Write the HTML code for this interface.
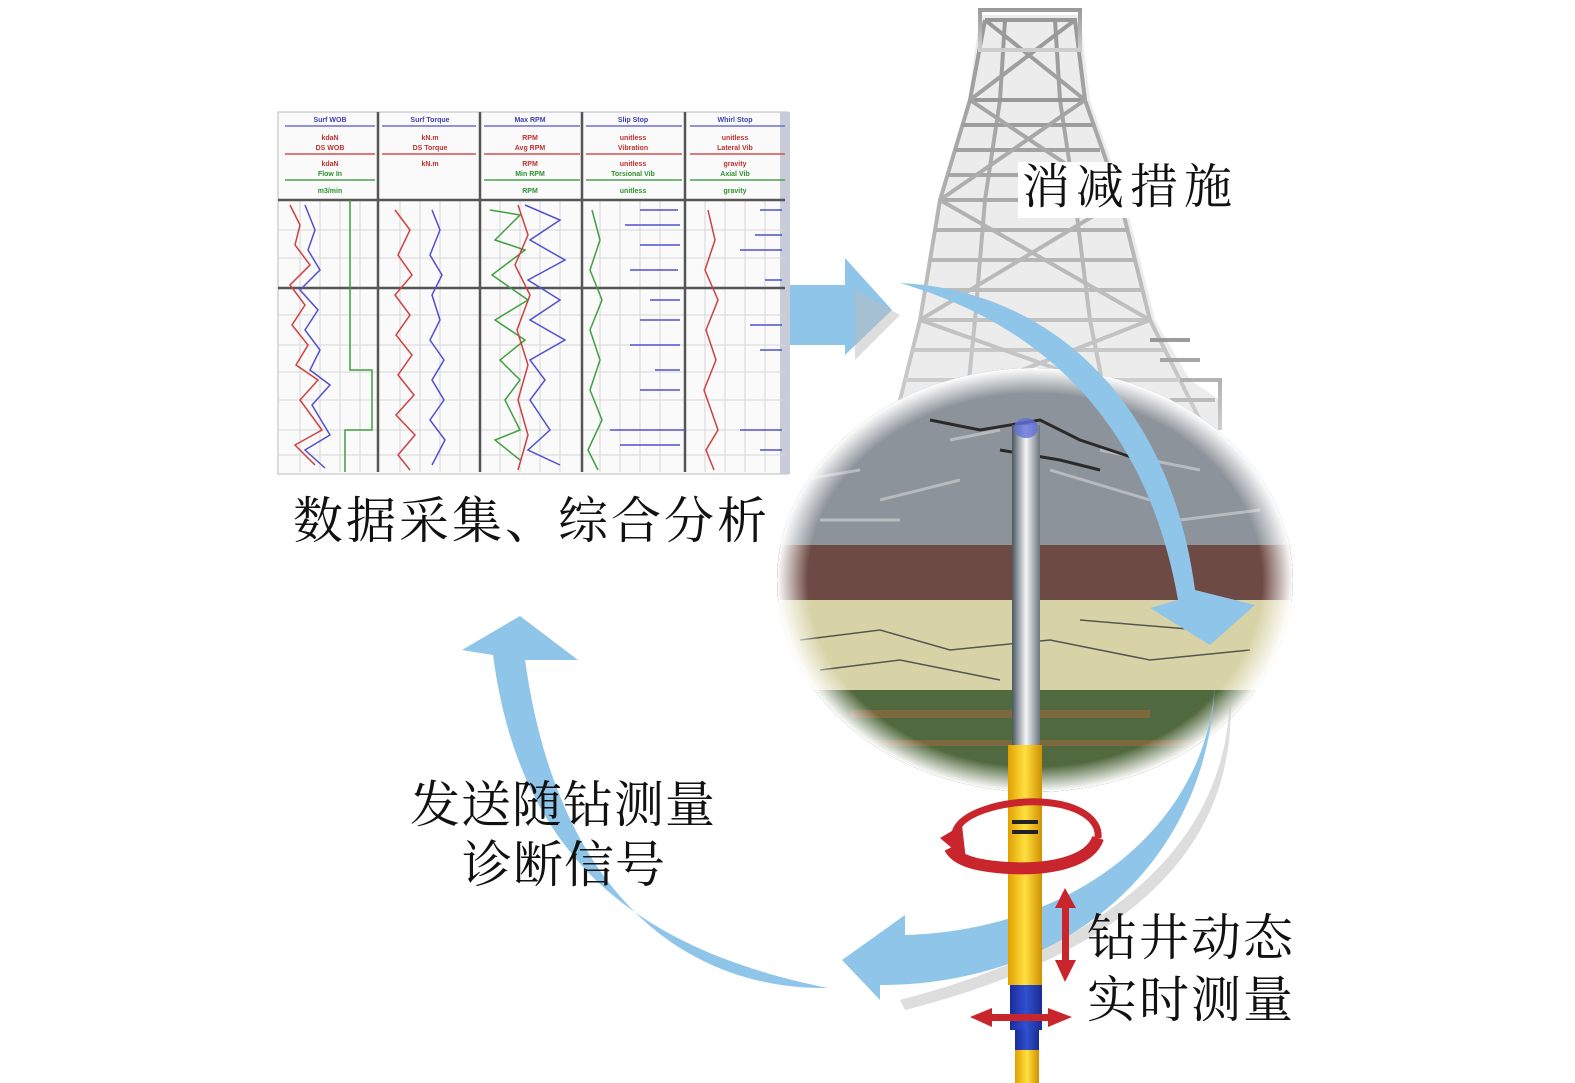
<!DOCTYPE html>
<html><head><meta charset="utf-8"><style>
body{margin:0;width:1575px;height:1083px;background:#fff;overflow:hidden;position:relative;font-family:"Liberation Serif","Noto Serif CJK SC",serif}
.t{position:absolute;color:#111;font-family:"Liberation Serif","Noto Serif CJK SC",serif;white-space:nowrap;line-height:1}
</style></head><body>
<svg width="1575" height="1083" style="position:absolute;left:0;top:0">
<defs>
<radialGradient id="fade" cx="50%" cy="50%" r="50%">
<stop offset="0.88" stop-color="#fff" stop-opacity="0"/><stop offset="1" stop-color="#fff" stop-opacity="1"/></radialGradient>
<clipPath id="ell"><ellipse cx="1035" cy="580" rx="258" ry="212"/></clipPath>
<linearGradient id="pipe" x1="0" x2="1"><stop offset="0" stop-color="#4a5560"/><stop offset="0.5" stop-color="#f4f6f8"/><stop offset="1" stop-color="#6a747e"/></linearGradient>
<linearGradient id="yel" x1="0" x2="1"><stop offset="0" stop-color="#e0a000"/><stop offset="0.5" stop-color="#ffe040"/><stop offset="1" stop-color="#d09000"/></linearGradient>
<linearGradient id="blu" x1="0" x2="1"><stop offset="0" stop-color="#1a2c9a"/><stop offset="0.5" stop-color="#3050d0"/><stop offset="1" stop-color="#1a2c90"/></linearGradient>
<linearGradient id="der" x1="0" y1="0" x2="0" y2="1"><stop offset="0" stop-color="#8a8a8a"/><stop offset="1" stop-color="#c8c8c8"/></linearGradient>
</defs>
<!-- derrick -->
<path d="M980 15 L1080 15 L1090 100 L1125 200 L1155 320 L1190 380 L1220 400 L1220 430 L890 430 L920 320 L940 200 L968 100 Z" fill="#d4d4d4" opacity="0.45"/>
<g stroke="url(#der)" stroke-width="4" fill="none" opacity="0.85">
<path d="M985 20 L1075 20 L1085 100 L1120 200 L1150 320 L1200 420 M985 20 L970 100 L940 200 L920 320 L895 420"/>
<path d="M1005 20 L1000 100 L985 200 L975 320 L965 420 M1055 20 L1060 100 L1075 200 L1090 320 L1110 420"/>
<path d="M970 100 L1085 100 M962 125 L1092 125 M955 150 L1100 150 M948 175 L1110 175 M940 200 L1120 200 M935 230 L1128 230 M930 260 L1135 260 M925 290 L1142 290 M920 320 L1150 320 M912 350 L1165 350 M905 380 L1180 380"/>
<path d="M985 20 L1085 100 M1075 20 L970 100 M970 100 L1120 200 M1085 100 L940 200 M940 200 L1150 320 M1120 200 L920 320 M920 320 L1200 420 M1150 320 L895 420"/>
<rect x="980" y="10" width="100" height="40"/>
<path d="M1180 380 L1220 380 L1220 430 M1150 340 L1190 340 M1160 360 L1200 360 M1170 400 L1215 400"/>
</g>
<rect x="1018" y="162" width="212" height="56" fill="#fff"/>
<!-- earth ellipse -->
<g clip-path="url(#ell)">
<rect x="770" y="360" width="540" height="190" fill="#8d939a"/>
<g stroke="#c9ccd0" stroke-width="3" opacity="0.7"><path d="M800 480 L860 470 M880 500 L960 480 M1050 470 L1150 500 M1100 450 L1200 470 M820 520 L900 520 M1180 520 L1260 510 M950 440 L1000 430"/></g>
<g stroke="#2a2a2a" stroke-width="3" fill="none"><path d="M930 420 L980 430 L1040 420 L1080 440 L1140 460 M1000 450 L1060 460 L1100 470"/></g>
<rect x="770" y="545" width="540" height="57" fill="#6e4a44"/>
<rect x="770" y="600" width="540" height="95" fill="#d8d3a6"/>
<g stroke="#555" stroke-width="1.5" fill="none"><path d="M800 640 L880 630 L950 650 L1050 640 L1150 660 L1250 650 M820 670 L900 660 L1000 680 M1080 620 L1200 630"/></g>
<rect x="770" y="690" width="540" height="110" fill="#51693e"/>
<g fill="#9a6a40" opacity="0.6"><rect x="850" y="710" width="300" height="8"/><rect x="820" y="740" width="400" height="6"/></g>
<ellipse cx="1035" cy="580" rx="258" ry="212" fill="url(#fade)"/>
</g>
<!-- arrows -->
<g fill="#8ec5e8">
<path d="M790 285 L845 285 L845 258 L892 310 L845 355 L845 345 L790 345 Z"/>
<path d="M900 283 C1050 290 1170 400 1195 590 L1255 605 L1210 645 L1150 608 L1178 600 C1150 440 1060 330 900 283 Z"/>
<path d="M1215 680 C1210 820 1080 930 905 935 L905 915 L842 960 L880 1000 L880 985 C1070 985 1210 860 1215 680 Z"/>
<path d="M828 988 C700 990 560 910 525 660 L578 660 L520 616 L462 650 L493 655 C520 860 640 950 828 988 Z"/>
</g>
<g fill="#bbb" opacity="0.5">
<path d="M855 290 L900 315 L855 360 Z"/>
<path d="M1230 690 C1230 830 1130 940 900 1000 L905 1010 C1140 950 1240 840 1230 690 Z"/>
</g>
<!-- pipe -->
<rect x="1012" y="425" width="28" height="325" fill="url(#pipe)"/>
<ellipse cx="1026" cy="428" rx="12" ry="10" fill="#6070d8" opacity="0.8"/>
<rect x="1008" y="745" width="34" height="240" fill="url(#yel)"/>
<rect x="1012" y="820" width="26" height="4" fill="#222"/><rect x="1012" y="830" width="26" height="4" fill="#222"/>
<rect x="1010" y="985" width="32" height="45" fill="url(#blu)"/>
<rect x="1015" y="1030" width="24" height="20" fill="url(#blu)"/>
<rect x="1015" y="1050" width="24" height="33" fill="url(#yel)"/>
<!-- red ring -->
<path d="M955 840 C950 812 1010 800 1040 802 C1080 804 1100 820 1098 838" stroke="#c8262c" stroke-width="7" fill="none"/>
<path d="M1098 838 C1090 862 1050 870 1010 868 C970 866 955 858 950 848" stroke="#c8262c" stroke-width="12" fill="none"/>
<path d="M940 838 L962 825 L966 860 Z" fill="#c8262c"/>
<g fill="#c8262c">
<rect x="1062" y="905" width="7" height="60"/>
<path d="M1055 908 L1065 888 L1076 908 Z"/><path d="M1055 960 L1065 982 L1076 960 Z"/>
<rect x="990" y="1014" width="60" height="7"/>
<path d="M992 1008 L970 1017 L992 1027 Z"/><path d="M1048 1008 L1072 1017 L1048 1027 Z"/>
</g>
<!-- chart -->
<g>
<rect x="278" y="112" width="510" height="362" fill="#fafafa" stroke="#bbb"/>
<rect x="780" y="112" width="10" height="362" fill="#c8ccd8"/>
<g stroke="#d7d7d7" stroke-width="1">
<path d="M278 230 H785 M278 258 H785 M278 315 H785 M278 345 H785 M278 372 H785 M278 400 H785 M278 430 H785 M278 455 H785"/>
<path d="M300 200 V472 M320 200 V472 M340 200 V472 M360 200 V472 M400 200 V472 M420 200 V472 M440 200 V472 M460 200 V472 M500 200 V472 M520 200 V472 M540 200 V472 M560 200 V472 M600 200 V472 M620 200 V472 M640 200 V472 M660 200 V472 M705 200 V472 M725 200 V472 M745 200 V472 M765 200 V472"/>
</g>
<g stroke="#7070d0" stroke-width="1.5"><path d="M285 126 H375 M382 126 H476 M484 126 H580 M586 126 H682 M690 126 H785"/></g>
<g stroke="#d05050" stroke-width="1.5"><path d="M285 154 H375 M382 154 H476 M484 154 H580 M586 154 H682 M690 154 H785"/></g>
<g stroke="#50a050" stroke-width="1.5"><path d="M285 180 H375 M484 180 H580 M586 180 H682 M690 180 H785"/></g>
<g font-size="7" font-family="Liberation Sans,sans-serif" font-weight="bold" text-anchor="middle">
<g fill="#4040b0"><text x="330" y="122">Surf WOB</text><text x="430" y="122">Surf Torque</text><text x="530" y="122">Max RPM</text><text x="633" y="122">Slip Stop</text><text x="735" y="122">Whirl Stop</text></g>
<g fill="#c03030"><text x="330" y="140">kdaN</text><text x="330" y="150">DS WOB</text><text x="430" y="140">kN.m</text><text x="430" y="150">DS Torque</text><text x="530" y="140">RPM</text><text x="530" y="150">Avg RPM</text><text x="633" y="140">unitless</text><text x="633" y="150">Vibration</text><text x="735" y="140">unitless</text><text x="735" y="150">Lateral Vib</text>
<text x="330" y="166">kdaN</text><text x="430" y="166">kN.m</text><text x="530" y="166">RPM</text><text x="633" y="166">unitless</text><text x="735" y="166">gravity</text></g>
<g fill="#309030"><text x="330" y="176">Flow In</text><text x="530" y="176">Min RPM</text><text x="633" y="176">Torsional Vib</text><text x="735" y="176">Axial Vib</text><text x="330" y="193">m3/min</text><text x="530" y="193">RPM</text><text x="633" y="193">unitless</text><text x="735" y="193">gravity</text></g>
</g>
<g stroke="#555" stroke-width="2.5"><path d="M378 112 V472 M480 112 V472 M582 112 V472 M685 112 V472 M278 200 H785 M278 288 H785"/></g>
<g fill="none" stroke-width="1.5">
<path stroke="#d04040" d="M290 205 L300 225 L295 245 L310 265 L290 285 L305 305 L292 325 L308 345 L296 365 L318 380 L300 400 L322 430 L295 445 L315 465"/>
<path stroke="#5050d0" d="M305 205 L315 230 L308 250 L320 270 L300 290 L318 310 L305 330 L320 350 L310 370 L330 385 L312 405 L330 435 L305 450 L325 468"/>
<path stroke="#40a040" d="M350 200 V370 H372 V430 H345 V472"/>
<path stroke="#d04040" d="M395 210 L410 230 L398 255 L412 275 L395 295 L410 315 L396 335 L412 355 L398 375 L414 395 L396 415 L415 435 L398 455 L410 470"/>
<path stroke="#5050d0" d="M432 210 L440 230 L430 255 L442 275 L432 295 L440 320 L430 340 L444 360 L432 380 L444 400 L430 420 L445 440 L432 465"/>
<path stroke="#40a040" d="M490 210 L520 215 L495 240 L525 250 L492 275 L528 300 L495 320 L525 340 L500 360 L520 380 L505 400 L520 430 L495 440 L520 460"/>
<path stroke="#5050d0" d="M525 205 L560 220 L530 240 L565 260 L528 280 L560 300 L530 320 L565 340 L530 360 L545 380 L530 400 L550 430 L528 450 L560 465"/>
<path stroke="#d04040" d="M518 205 L528 235 L515 265 L530 295 L517 330 L528 365 L518 400 L528 435 L518 470"/>
<path stroke="#40a040" d="M592 210 L600 240 L590 270 L602 300 L590 330 L600 360 L590 390 L602 420 L588 450 L598 470"/>
<path stroke="#5050d0" d="M640 210 H678 M625 225 H680 M640 245 H680 M630 270 H678 M650 300 H680 M640 320 H680 M630 345 H680 M655 370 H680 M640 390 H680 M610 430 H685 M620 445 H680"/>
<path stroke="#d04040" d="M708 210 L715 240 L705 270 L718 300 L706 330 L716 360 L704 390 L718 430 L706 450 L714 470"/>
<path stroke="#5050d0" d="M760 210 H782 M755 235 H782 M740 250 H782 M765 280 H782 M750 325 H782 M760 350 H782 M740 430 H782 M760 450 H782"/>
</g>
</g>
</svg>
<div class="t" style="left:1022px;top:164px;font-size:48px;letter-spacing:6px">消减措施</div>
<div class="t" style="left:293px;top:496px;font-size:50px;letter-spacing:3px">数据采集、综合分析</div>
<div class="t" style="left:410px;top:780px;font-size:50px;letter-spacing:1px">发送随钻测量</div>
<div class="t" style="left:462px;top:840px;font-size:50px;letter-spacing:1px">诊断信号</div>
<div class="t" style="left:1087px;top:913px;font-size:50px;letter-spacing:2px">钻井动态</div>
<div class="t" style="left:1087px;top:975px;font-size:50px;letter-spacing:2px">实时测量</div>
</body></html>
